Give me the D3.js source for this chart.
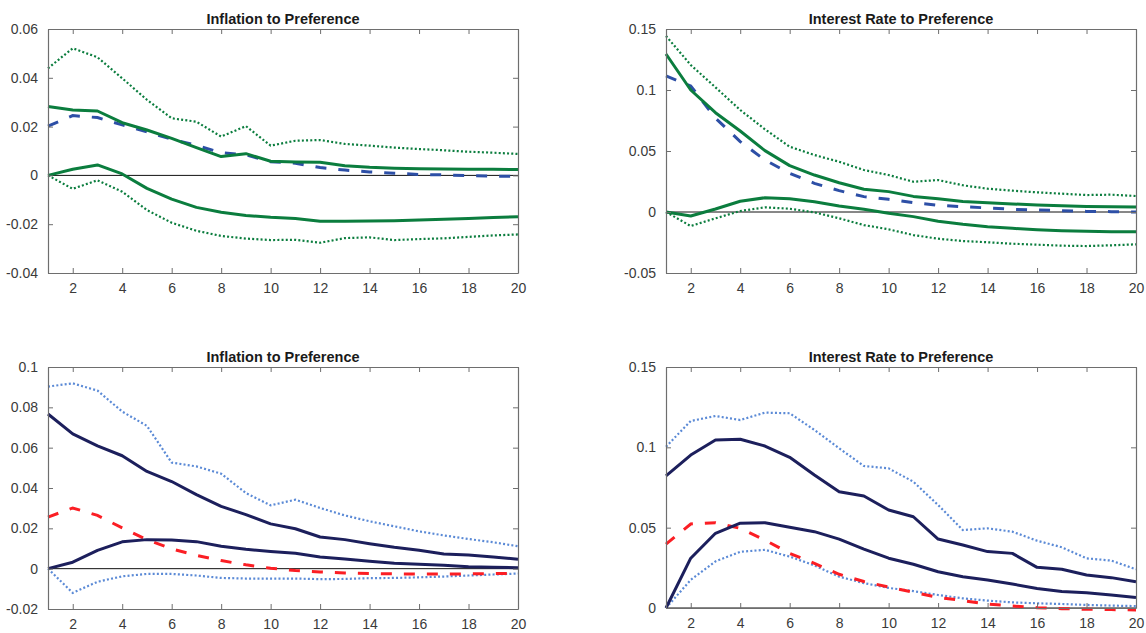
<!DOCTYPE html>
<html>
<head>
<meta charset="utf-8">
<script src="https://cdn.jsdelivr.net/npm/d3@7"></script>
<style>
  body { margin: 0; background: #fff; }
  svg text { font-family: "Liberation Sans", Arial, Helvetica, sans-serif; }
</style>
</head>
<body>
<div id="chart_disp"></div>
<script>
// horizons 1..20
var horizon = d3.range(1, 21);
var xTicks = [2, 4, 6, 8, 10, 12, 14, 16, 18, 20];

// top left: inflation (green bands, blue dashed)
var tlUpperBand = [0.0439,0.0521,0.0484,0.0398,0.031,0.0234,0.022,0.0159,0.0202,0.0122,0.0142,0.0145,0.0129,0.0122,0.0114,0.0108,0.0103,0.0097,0.0093,0.0088];
var tlUpper = [0.0282,0.0268,0.0264,0.0216,0.0186,0.0152,0.0114,0.0077,0.0089,0.0058,0.0055,0.0054,0.004,0.0033,0.0029,0.0027,0.0026,0.0025,0.0025,0.0024];
var tlDashed = [0.0202,0.0245,0.0237,0.0207,0.0179,0.0148,0.0123,0.0093,0.0084,0.0056,0.005,0.0032,0.0022,0.0014,0.0009,0.0004,0.0002,-0.0001,-0.0003,-0.0004];
var tlLower = [0,0.0025,0.0043,0.0006,-0.0053,-0.0097,-0.0131,-0.0151,-0.0164,-0.0172,-0.0177,-0.0188,-0.0188,-0.0187,-0.0186,-0.0183,-0.018,-0.0177,-0.0173,-0.0169];
var tlLowerBand = [0,-0.0055,-0.002,-0.0067,-0.0142,-0.0194,-0.0227,-0.0248,-0.0259,-0.0265,-0.0264,-0.0276,-0.0257,-0.0254,-0.0265,-0.0261,-0.0258,-0.0252,-0.0246,-0.0242];
var tlTicks = [-0.04, -0.02, 0, 0.02, 0.04, 0.06];
var tlLabels = ["-0.04", "-0.02", "0", "0.02", "0.04", "0.06"];

// top right: interest rate
var trUpperBand = [0.1443,0.1205,0.1022,0.0836,0.0678,0.0535,0.0467,0.0412,0.0344,0.0303,0.0248,0.0262,0.0219,0.0191,0.0175,0.0161,0.015,0.0139,0.0142,0.0131];
var trUpper = [0.1295,0.1,0.0814,0.0664,0.0503,0.038,0.0303,0.024,0.0186,0.0167,0.0128,0.0109,0.0087,0.0076,0.0066,0.0057,0.0052,0.0046,0.0044,0.0041];
var trDashed = [0.1115,0.1033,0.077,0.0577,0.0426,0.0317,0.0235,0.0175,0.0126,0.0104,0.0076,0.0055,0.0044,0.0033,0.0022,0.0016,0.0011,0.0005,0.0003,0];
var trLower = [0,-0.0033,0.0025,0.0088,0.0117,0.0109,0.0084,0.0049,0.0022,-0.0011,-0.0038,-0.0076,-0.0101,-0.012,-0.0134,-0.0145,-0.0153,-0.0158,-0.0161,-0.0161];
var trLowerBand = [0,-0.0115,-0.0052,0.0008,0.0038,0.0027,-0.0003,-0.0052,-0.0107,-0.0142,-0.0189,-0.0219,-0.0238,-0.0248,-0.026,-0.0268,-0.0276,-0.0279,-0.0273,-0.0265];
var trTicks = [-0.05, 0, 0.05, 0.1, 0.15];
var trLabels = ["-0.05", "0", "0.05", "0.1", "0.15"];

// bottom left: inflation (navy bands, red dashed)
var blUpperBand = [0.0903,0.0919,0.0883,0.0779,0.0708,0.0526,0.0507,0.0471,0.0375,0.0314,0.0342,0.0301,0.0264,0.0235,0.021,0.0185,0.0165,0.0147,0.0131,0.0111];
var blUpper = [0.0767,0.0668,0.0609,0.056,0.0482,0.0432,0.0367,0.0309,0.0268,0.0222,0.0198,0.0157,0.0144,0.0124,0.0106,0.0091,0.0073,0.0068,0.0058,0.0047];
var blDashed = [0.0256,0.0301,0.0264,0.0202,0.0144,0.0098,0.0066,0.004,0.0019,0.0002,-0.0009,-0.0016,-0.0021,-0.0024,-0.0026,-0.0027,-0.0027,-0.0026,-0.0024,-0.0024];
var blLower = [0,0.0032,0.0091,0.0133,0.0144,0.0142,0.0134,0.0111,0.0096,0.0085,0.0076,0.0058,0.0048,0.0037,0.0027,0.0022,0.0017,0.001,0.0007,0.0005];
var blLowerBand = [0,-0.012,-0.0065,-0.0038,-0.0026,-0.0026,-0.0034,-0.0046,-0.0049,-0.0049,-0.0049,-0.0052,-0.0051,-0.0047,-0.0046,-0.0043,-0.0039,-0.0034,-0.0029,-0.0024];
var blTicks = [-0.02, 0, 0.02, 0.04, 0.06, 0.08, 0.1];
var blLabels = ["-0.02", "0", "0.02", "0.04", "0.06", "0.08", "0.1"];

// bottom right: interest rate
var brUpperBand = [0.1004,0.1164,0.1195,0.117,0.1216,0.1212,0.1108,0.0994,0.0884,0.0869,0.0786,0.0641,0.0485,0.0496,0.0475,0.0419,0.0378,0.0309,0.0295,0.0241];
var brUpper = [0.0822,0.0952,0.1046,0.105,0.1008,0.0938,0.0828,0.0724,0.0697,0.061,0.0568,0.0429,0.0392,0.0351,0.034,0.0253,0.0241,0.0205,0.0189,0.0164];
var brDashed = [0.0398,0.0523,0.0531,0.0496,0.0423,0.034,0.0278,0.021,0.0165,0.013,0.0098,0.0066,0.0046,0.0025,0.0012,0.0002,-0.0004,-0.0008,-0.001,-0.0012];
var brLower = [0,0.031,0.0465,0.0528,0.0531,0.0502,0.0475,0.0429,0.0367,0.031,0.0272,0.0226,0.0195,0.0174,0.0149,0.0122,0.0102,0.0095,0.0081,0.0066];
var brLowerBand = [0,0.0175,0.029,0.035,0.0362,0.032,0.0265,0.0195,0.0155,0.0125,0.0105,0.0081,0.006,0.0046,0.0035,0.0029,0.0025,0.0019,0.0015,0.0012];
var brTicks = [0, 0.05, 0.1, 0.15];
var brLabels = ["0", "0.05", "0.1", "0.15"];

var green = "#0b7d3e", blueDash = "#2d4fa6",
	navy = "#1c1f5c", lightBlue = "#5b8ad6", red = "#fb1e24";

var panels = [
	{title: "Inflation to Preference", left: 48, top: 29, bottom: 273, ydom: [-0.04, 0.06], ticks: tlTicks, labels: tlLabels,
	 band: [tlUpperBand, tlLowerBand], solid: [tlUpper, tlLower], dashed: tlDashed, bandColor: green, solidColor: green, dashColor: blueDash},
	{title: "Interest Rate to Preference", left: 666, top: 29, bottom: 273, ydom: [-0.05, 0.15], ticks: trTicks, labels: trLabels,
	 band: [trUpperBand, trLowerBand], solid: [trUpper, trLower], dashed: trDashed, bandColor: green, solidColor: green, dashColor: blueDash},
	{title: "Inflation to Preference", left: 48, top: 367, bottom: 609, ydom: [-0.02, 0.1], ticks: blTicks, labels: blLabels,
	 band: [blUpperBand, blLowerBand], solid: [blUpper, blLower], dashed: blDashed, bandColor: lightBlue, solidColor: navy, dashColor: red},
	{title: "Interest Rate to Preference", left: 666, top: 367, bottom: 608, ydom: [0, 0.15], ticks: brTicks, labels: brLabels,
	 band: [brUpperBand, brLowerBand], solid: [brUpper, brLower], dashed: brDashed, bandColor: lightBlue, solidColor: navy, dashColor: red}
];
var panelWidth = 470;

var svg = d3.select("#chart_disp")
	.append("svg")
		.attr("width", 1146)
		.attr("height", 633);

panels.forEach(function(p) {
	var x = d3.scaleLinear().domain([1, 20]).range([p.left, p.left + panelWidth]);
	var y = d3.scaleLinear().domain(p.ydom).range([p.bottom, p.top]);
	var g = svg.append("g");

	var line = d3.line()
		.x(function(d, i){ return x(horizon[i]); })
		.y(function(d){ return y(d); });

	// zero line
	g.append("line")
		.attr("x1", x(1)).attr("x2", x(20))
		.attr("y1", y(0)).attr("y2", y(0))
		.attr("stroke", "#111").attr("stroke-width", 1);

	// bands (dotted)
	p.band.forEach(function(s){
		g.append("path").datum(s)
			.attr("d", line)
			.attr("fill", "none")
			.attr("stroke", p.bandColor)
			.attr("stroke-width", 2.2)
			.attr("stroke-dasharray", "2,2.2");
	});
	// dashed reference
	g.append("path").datum(p.dashed)
		.attr("d", line)
		.attr("fill", "none")
		.attr("stroke", p.dashColor)
		.attr("stroke-width", 3)
		.attr("stroke-dasharray", "11,12");
	// solid lines
	p.solid.forEach(function(s){
		g.append("path").datum(s)
			.attr("d", line)
			.attr("fill", "none")
			.attr("stroke", p.solidColor)
			.attr("stroke-width", 3)
			.attr("stroke-linejoin", "round");
	});

	// axes box, ticks inside
	var fmt = function(d){ return p.labels[p.ticks.indexOf(d)]; };
	var axes = [
		{ax: d3.axisBottom(x).tickValues(xTicks), tr: "translate(0," + p.bottom + ")", text: true},
		{ax: d3.axisTop(x).tickValues(xTicks), tr: "translate(0," + p.top + ")", text: false},
		{ax: d3.axisLeft(y).tickValues(p.ticks).tickFormat(fmt), tr: "translate(" + p.left + ",0)", text: true},
		{ax: d3.axisRight(y).tickValues(p.ticks), tr: "translate(" + (p.left + panelWidth) + ",0)", text: false}
	];
	axes.forEach(function(a){
		var ag = g.append("g")
			.attr("transform", a.tr)
			.call(a.ax.tickSizeInner(-5).tickSizeOuter(0).tickPadding(10));
		ag.select(".domain").attr("stroke", "#6e6e6e").attr("stroke-width", 1.2);
		ag.selectAll(".tick line").attr("stroke", "#6e6e6e");
		ag.selectAll("text")
			.attr("font-size", "14px")
			.attr("fill", "#3a3a3a")
			.attr("font-family", null);
		if (!a.text) ag.selectAll("text").remove();
	});

	g.append("text")
		.attr("x", p.left + panelWidth / 2)
		.attr("y", p.top - 5)
		.attr("text-anchor", "middle")
		.attr("font-size", "14.5px")
		.attr("font-weight", "bold")
		.attr("fill", "#1a1a1a")
		.text(p.title);
});
</script>
</body>
</html>
